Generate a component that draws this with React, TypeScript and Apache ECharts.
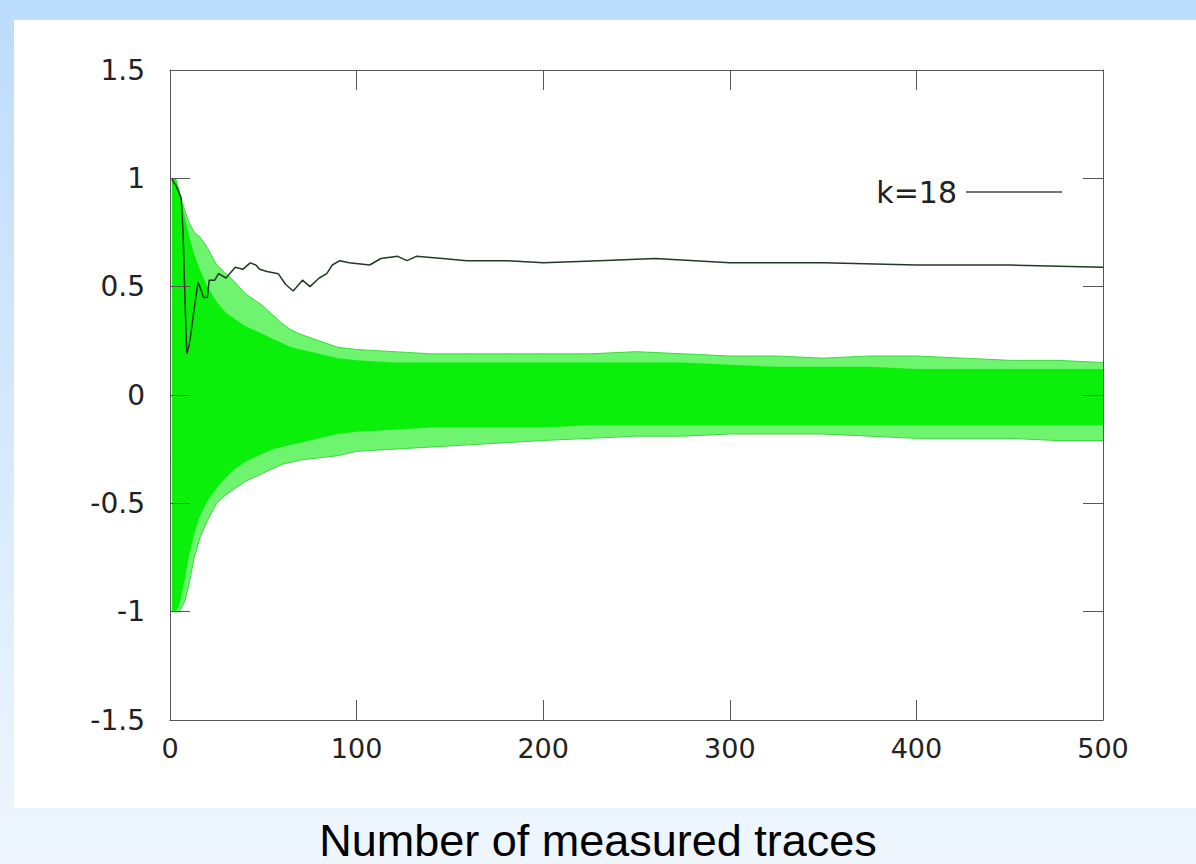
import React, { useEffect, useRef } from "react";
import * as echarts from "echarts";

// Sample positions (number of measured traces) for the envelope of the 255 wrong-key traces
const envN = [1, 3, 5, 8, 10, 13, 16, 20, 25, 30, 35, 40, 45, 50, 55, 60, 65, 70, 80, 90, 100, 120, 140, 160, 180, 200, 225, 250, 275, 300, 325, 350, 375, 400, 425, 450, 475, 500];
// Outermost traces (top / bottom of the green bundle)
const outerUpper = [1.0, 1.0, 0.93, 0.85, 0.8, 0.75, 0.73, 0.68, 0.6, 0.56, 0.52, 0.47, 0.44, 0.41, 0.37, 0.33, 0.3, 0.28, 0.25, 0.22, 0.21, 0.2, 0.19, 0.19, 0.19, 0.19, 0.19, 0.2, 0.19, 0.18, 0.18, 0.17, 0.18, 0.18, 0.17, 0.16, 0.16, 0.15];
const outerLower = [-1.0, -1.0, -1.0, -0.95, -0.88, -0.75, -0.66, -0.58, -0.5, -0.46, -0.43, -0.4, -0.38, -0.36, -0.34, -0.32, -0.31, -0.3, -0.29, -0.28, -0.26, -0.25, -0.24, -0.23, -0.22, -0.21, -0.2, -0.19, -0.19, -0.18, -0.18, -0.18, -0.19, -0.2, -0.2, -0.2, -0.21, -0.21];
// Dense core of the bundle
const coreUpper = [1.0, 1.0, 0.95, 0.82, 0.74, 0.65, 0.58, 0.5, 0.43, 0.38, 0.35, 0.32, 0.3, 0.28, 0.26, 0.24, 0.22, 0.21, 0.19, 0.17, 0.16, 0.15, 0.15, 0.15, 0.15, 0.15, 0.15, 0.15, 0.15, 0.14, 0.13, 0.13, 0.13, 0.12, 0.12, 0.12, 0.12, 0.12];
const coreLower = [-1.0, -1.0, -0.97, -0.85, -0.75, -0.64, -0.56, -0.49, -0.43, -0.38, -0.34, -0.31, -0.29, -0.27, -0.25, -0.24, -0.23, -0.22, -0.2, -0.18, -0.17, -0.16, -0.15, -0.15, -0.15, -0.15, -0.14, -0.14, -0.14, -0.14, -0.14, -0.14, -0.14, -0.14, -0.14, -0.14, -0.14, -0.14];

// Correct key guess k=18
const k18N = [1, 2, 3, 4, 5, 6, 7, 8, 9, 10, 11, 13, 15, 16, 18, 20, 21, 24, 26, 30, 33, 35, 39, 43, 46, 48, 52, 58, 62, 66, 71, 75, 80, 84, 87, 91, 96, 107, 113, 122, 127, 132, 146, 159, 180, 200, 230, 260, 300, 350, 400, 450, 500];
const k18Val = [1.0, 0.98, 0.97, 0.95, 0.93, 0.91, 0.75, 0.45, 0.19, 0.22, 0.27, 0.4, 0.52, 0.5, 0.45, 0.45, 0.53, 0.53, 0.56, 0.54, 0.57, 0.59, 0.58, 0.61, 0.6, 0.58, 0.57, 0.56, 0.51, 0.48, 0.53, 0.5, 0.54, 0.56, 0.6, 0.62, 0.61, 0.6, 0.63, 0.64, 0.62, 0.64, 0.63, 0.62, 0.62, 0.61, 0.62, 0.63, 0.61, 0.61, 0.6, 0.6, 0.59];

const xTicks = { min: 0, max: 500, interval: 100 };
const yTicks = { min: -1.5, max: 1.5, interval: 0.5 };
const legendLabel = "k=18";
const xTitle = "Number of measured traces";

const GREEN = "#0af00a";
const LIGHT_GREEN = "#6ff46f";
const EDGE_GREEN = "#3fd83f";
const DARK = "#1f3b22";
const AXIS = "#555";
const FONT = "DejaVu Sans";

const pairs = (xs: number[], ys: number[]) => xs.map((x, i) => [x, ys[i]]);

export default function App() {
  const ref = useRef<HTMLDivElement>(null);
  useEffect(() => {
    if (!ref.current) return;
    const chart = echarts.init(ref.current, undefined, { renderer: "svg" });
    const tick = { show: true, inside: true, length: 20, lineStyle: { color: AXIS, width: 1 } };
    const axisCommon = {
      type: "value" as const,
      z: 10,
      axisLine: { show: true, onZero: false, lineStyle: { color: AXIS, width: 1 } },
      axisTick: tick,
      splitLine: { show: false },
    };
    const band = (data: number[][], fill: string, edge: string, edgeW: number) => ({
      type: "line",
      data,
      symbol: "none",
      silent: true,
      lineStyle: { color: edge, width: edgeW },
      areaStyle: { color: fill, opacity: 1, origin: "auto" },
      z: 2,
    });
    chart.setOption({
      animation: false,
      backgroundColor: "transparent",
      grid: { left: 170, right: 93, top: 70, bottom: 144 },
      xAxis: [
        {
          ...axisCommon,
          ...xTicks,
          position: "bottom",
          axisTick: tick,
          axisLabel: { fontSize: 27, color: "#222", fontFamily: FONT, margin: 15 },
        },
        { ...axisCommon, ...xTicks, position: "top", axisTick: tick, axisLabel: { show: false } },
      ],
      yAxis: [
        {
          ...axisCommon,
          ...yTicks,
          position: "left",
          axisLabel: { fontSize: 28, color: "#222", fontFamily: FONT, margin: 25 },
        },
        { ...axisCommon, ...yTicks, position: "right", axisLabel: { show: false } },
      ],
      title: {
        text: xTitle,
        left: "center",
        top: 818,
        padding: 0,
        textStyle: { fontFamily: "Liberation Sans", fontSize: 45, lineHeight: 44, fontWeight: "normal", color: "#000" },
      },
      legend: {
        data: [legendLabel],
        right: 129,
        top: 172,
        align: "right",
        icon: "rect",
        itemWidth: 96,
        itemHeight: 1.5,
        itemStyle: { color: "#4a4a4a" },
        textStyle: { fontSize: 30, fontFamily: FONT, color: "#222", padding: [0, 4, 0, 0] },
      },
      series: [
        band(pairs(envN, outerUpper), LIGHT_GREEN, EDGE_GREEN, 1),
        band(pairs(envN, outerLower), LIGHT_GREEN, EDGE_GREEN, 1),
        band(pairs(envN, coreUpper), GREEN, GREEN, 0),
        band(pairs(envN, coreLower), GREEN, GREEN, 0),
        {
          name: legendLabel,
          type: "line",
          data: pairs(k18N, k18Val),
          symbol: "none",
          color: DARK,
          lineStyle: { color: DARK, width: 1.5 },
          z: 5,
        },
      ],
    });
    return () => chart.dispose();
  }, []);

  return (
    <div
      style={{
        position: "fixed",
        left: 0,
        top: 0,
        width: 1196,
        height: 864,
        background: "linear-gradient(#bcdcfe, #eff6fd)",
      }}
    >
      <div style={{ position: "absolute", left: 14, top: 20, width: 1182, height: 788, background: "#fff" }} />
      <div ref={ref} style={{ position: "absolute", left: 0, top: 0, width: 1196, height: 864 }} />
    </div>
  );
}
